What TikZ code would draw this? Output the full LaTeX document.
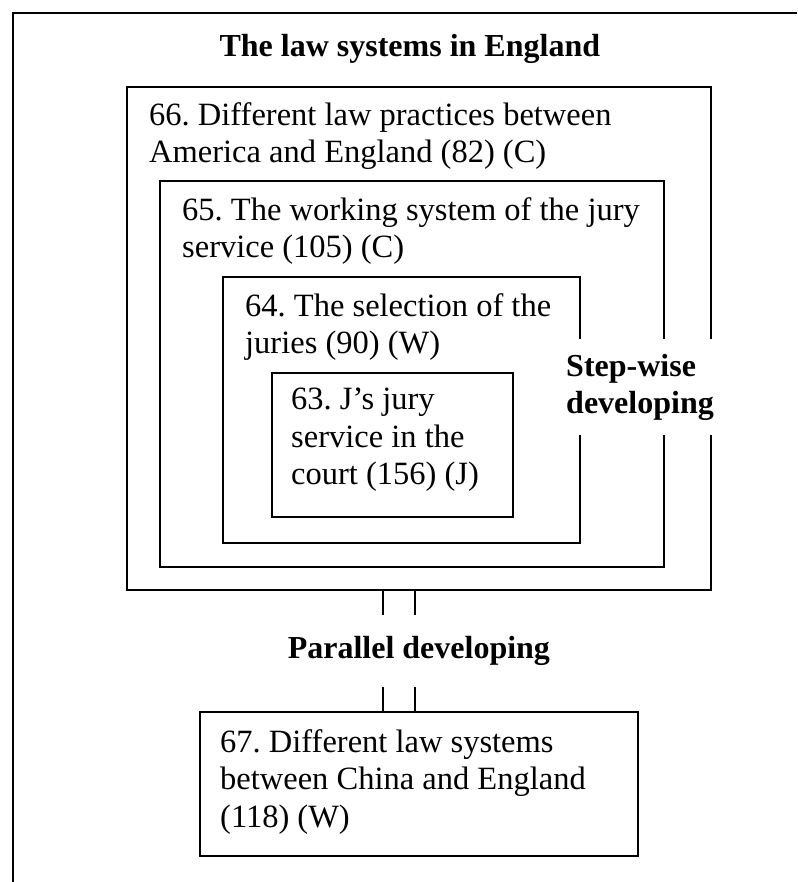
\documentclass[tikz,border=0pt]{standalone}
\usepackage{fontspec}
\setmainfont{Liberation Serif}
\usetikzlibrary{positioning}
\tikzset{
  box/.style={draw, thick, line width=1.7pt, anchor=north west, inner sep=0pt},
  txt/.style={align=left, inner sep=0pt, font=\fontsize{32.5}{37.5}\selectfont\frenchspacing},
  head/.style={align=left, inner sep=0pt, font=\fontsize{32}{37}\selectfont\bfseries},
  frame/.style={line width=1.8pt},
  link/.style={line width=1.5pt}
}
\begin{document}
\begin{tikzpicture}[x=1pt, y=1pt, node distance=17pt and 23pt]
    \useasboundingbox (0,0) rectangle (797,-882);
    \draw[frame] (797,-13) -| (13,-882);
    % nested boxes
    \node[box, minimum width=584pt, minimum height=503pt] (b66) at (126,-86) {};
    \node[box, minimum width=504pt, minimum height=386pt] (b65) at (159,-180) {};
    \node[box, minimum width=357pt, minimum height=266pt] (b64) at (222,-276) {};
    \node[box, minimum width=241pt, minimum height=144pt] (b63) at (271,-372) {};
    \node[txt, below right=16pt and 23pt of b66.north west] (t66) {66. Different law practices between\\America and England (82) (C)};
    \node[txt, below right=of b65.north west] (t65) {65. The working system of the jury\\service (105) (C)};
    \node[txt, below right=of b64.north west] (t64) {64. The selection of the\\juries (90) (W)};
    \node[txt, below right=16pt and 20pt of b63.north west] (t63) {63. J's jury\\service in the\\court (156) (J)};
    \node[head, above=22pt of b66, xshift=-9pt] (title) {The law systems in England};
    \node[head, fill=white, inner ysep=15pt, anchor=west] (step) at (566,-387) {Step-wise\\developing};
    % parallel part
    \node[head, minimum height=72pt, below=24pt of b66] (par) {Parallel developing};
    \node[box, anchor=north, minimum width=438pt, minimum height=144pt, below=24pt of par] (b67) {};
    \node[txt, below right=18pt and 21pt of b67.north west] (t67) {67. Different law systems\\between China and England\\(118) (W)};
    \foreach \dx in {-36,-4} {
      \draw[link] ([xshift=\dx pt]b66.south) -- ([xshift=\dx pt]par.north);
      \draw[link] ([xshift=\dx pt]par.south) -- ([xshift=\dx pt]b67.north);
    }
\end{tikzpicture}
\end{document}
